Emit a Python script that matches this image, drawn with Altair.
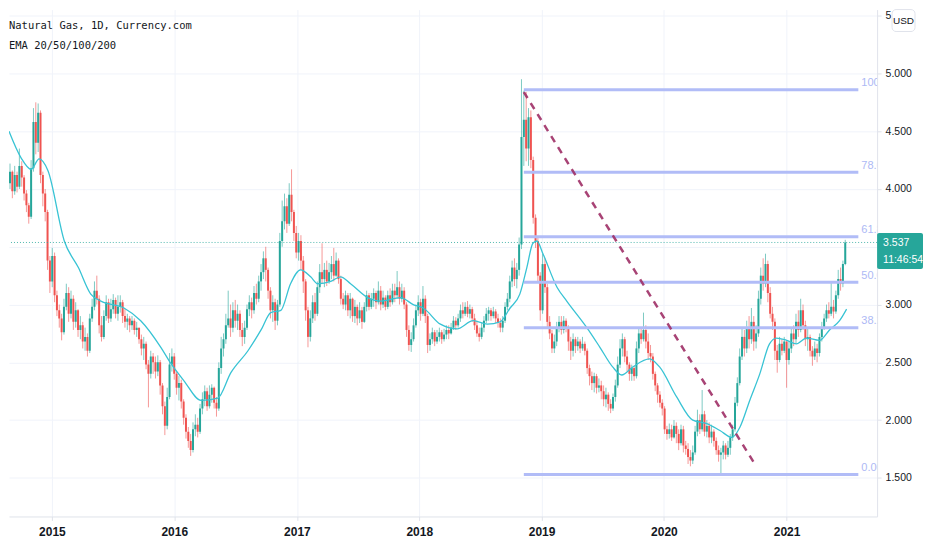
import altair as alt
import pandas as pd

# ---------------- data ----------------
START = "2014-08-22"          # first (weekly) candle
FIRST_OPEN = 4.12

CLOSE = [
    4.05, 4.15, 3.98, 4.12, 4.02, 4.20, 4.10, 3.96, 3.86, 3.76,
    4.18, 4.58, 4.40, 4.66, 4.12, 3.96, 3.80, 3.38, 3.20, 3.42,
    3.08, 2.95, 2.88, 2.76, 2.98, 3.10, 2.92, 3.05, 2.85, 2.95,
    2.78, 2.82, 2.68, 2.72, 2.60, 2.88, 2.98, 3.12, 3.05, 2.82,
    2.72, 2.90, 3.02, 2.88, 2.96, 3.04, 2.92, 2.98, 3.02, 2.90,
    2.85, 2.88, 2.82, 2.86, 2.78, 2.80, 2.70, 2.62, 2.66, 2.48,
    2.40, 2.55, 2.50, 2.42, 2.50, 2.30, 2.12, 1.95, 2.20, 2.48,
    2.55, 2.40, 2.28, 2.32, 2.16, 2.02, 1.90, 1.82, 1.74, 1.92,
    1.96, 1.90, 2.10, 2.18, 2.25, 2.12, 2.22, 2.28, 2.15, 2.10,
    2.45, 2.62, 2.70, 2.82, 2.88, 2.80, 2.95, 2.86, 2.92, 2.78,
    2.72, 2.80, 2.96, 3.02, 2.95, 3.10, 3.05, 3.20, 3.28, 3.40,
    3.30, 3.12, 2.95, 3.02, 2.86, 3.00, 3.55, 3.72, 3.85, 3.70,
    3.95, 3.80, 3.62, 3.45, 3.55, 3.38, 3.20, 2.95, 2.72, 2.88,
    3.02, 2.92, 3.15, 3.28, 3.22, 3.30, 3.20, 3.28, 3.35, 3.25,
    3.38, 3.22, 3.05, 3.00, 3.08, 2.95, 3.05, 2.90, 2.98, 2.88,
    2.95, 2.85, 2.98, 3.08, 2.98, 3.05, 3.10, 3.02, 3.12, 3.00,
    3.06, 2.98, 3.08, 3.02, 3.12, 3.08, 3.15, 3.05, 3.12, 3.00,
    2.78, 2.65, 2.70, 2.82, 2.95, 3.02, 2.92, 3.05, 2.90, 2.65,
    2.70, 2.76, 2.68, 2.72, 2.76, 2.70, 2.74, 2.78, 2.75, 2.80,
    2.86, 2.82, 2.88, 2.95, 2.92, 2.98, 2.92, 2.96, 2.88, 2.82,
    2.75, 2.72, 2.80, 2.86, 2.92, 2.95, 2.90, 2.94, 2.88, 2.84,
    2.80, 2.86, 2.98, 3.05, 3.20, 3.32, 3.22, 3.30, 3.52, 4.45,
    4.60, 4.35, 4.62, 4.25, 3.75, 3.55, 3.25, 2.95, 3.35, 3.15,
    2.85, 2.75, 2.62, 2.68, 2.80, 2.85, 2.78, 2.86, 2.80, 2.68,
    2.60, 2.70, 2.64, 2.68, 2.62, 2.66, 2.60, 2.45, 2.38, 2.32,
    2.38, 2.28, 2.30, 2.25, 2.18, 2.22, 2.14, 2.10, 2.20, 2.30,
    2.48, 2.62, 2.70, 2.55, 2.48, 2.40, 2.45, 2.38, 2.62, 2.75,
    2.70, 2.78, 2.68, 2.58, 2.55, 2.40, 2.30, 2.22, 2.15, 2.10,
    1.92, 1.88, 1.92, 1.85, 1.95, 1.88, 1.80, 1.92, 1.78, 1.75,
    1.68, 1.65, 1.72, 1.90, 2.00, 1.92, 2.05, 1.90, 1.95, 1.85,
    1.90, 1.82, 1.74, 1.70, 1.72, 1.78, 1.70, 1.76, 1.85, 1.92,
    2.15, 2.32, 2.55, 2.72, 2.62, 2.80, 2.70, 2.85, 2.68, 2.75,
    3.05, 3.25, 3.18, 3.35, 3.10, 2.92, 2.85, 2.60, 2.52, 2.66,
    2.60, 2.68, 2.52, 2.62, 2.75, 2.70, 2.85, 2.78, 2.95, 2.82,
    2.70, 2.72, 2.60, 2.55, 2.62, 2.58, 2.72, 2.80, 2.88, 2.95,
    2.92, 2.98, 2.94, 3.08, 3.22, 3.18, 3.35, 3.537,
]
HIGH = [
    4.18, 4.22, 4.16, 4.20, 4.15, 4.35, 4.24, 4.12, 3.99, 3.88,
    4.25, 4.70, 4.75, 4.74, 4.68, 4.15, 4.00, 3.82, 3.42, 3.49,
    3.45, 3.12, 3.00, 2.92, 3.05, 3.18, 3.15, 3.12, 3.08, 3.02,
    2.96, 2.90, 2.85, 2.80, 2.75, 2.92, 3.05, 3.20, 3.25, 3.08,
    2.90, 2.95, 3.08, 3.05, 3.05, 3.09, 3.06, 3.08, 3.08, 3.04,
    2.96, 2.92, 2.90, 2.90, 2.88, 2.85, 2.80, 2.74, 2.72, 2.68,
    2.52, 2.60, 2.58, 2.55, 2.56, 2.52, 2.32, 2.16, 2.28, 2.58,
    2.62, 2.58, 2.42, 2.38, 2.35, 2.18, 2.05, 1.94, 1.88, 1.98,
    2.05, 2.02, 2.14, 2.24, 2.30, 2.28, 2.30, 2.31, 2.29, 2.20,
    2.50, 2.72, 2.75, 2.92, 3.12, 3.00, 3.02, 3.04, 3.00, 2.95,
    2.84, 2.86, 3.00, 3.08, 3.06, 3.16, 3.18, 3.25, 3.35, 3.46,
    3.50, 3.32, 3.15, 3.08, 3.05, 3.04, 3.62, 3.90, 3.96, 3.92,
    4.05, 4.17, 3.82, 3.68, 3.62, 3.60, 3.42, 3.22, 2.98, 2.95,
    3.08, 3.10, 3.20, 3.35, 3.53, 3.36, 3.38, 3.36, 3.42, 3.49,
    3.45, 3.40, 3.25, 3.10, 3.12, 3.10, 3.10, 3.06, 3.04, 3.00,
    3.02, 2.98, 3.02, 3.12, 3.10, 3.10, 3.14, 3.12, 3.20, 3.16,
    3.12, 3.08, 3.12, 3.14, 3.18, 3.18, 3.29, 3.20, 3.18, 3.15,
    3.02, 2.82, 2.76, 2.88, 3.00, 3.08, 3.05, 3.16, 3.08, 2.92,
    2.75, 2.80, 2.78, 2.78, 2.80, 2.78, 2.79, 2.82, 2.82, 2.84,
    2.90, 2.89, 2.92, 3.00, 3.02, 3.02, 3.03, 3.00, 2.98, 2.92,
    2.86, 2.80, 2.84, 2.90, 2.97, 2.98, 2.97, 2.98, 2.96, 2.92,
    2.88, 2.90, 3.02, 3.10, 3.25, 3.38, 3.40, 3.36, 3.58, 4.95,
    4.85, 4.84, 4.70, 4.68, 4.28, 3.78, 3.58, 3.28, 3.44, 3.40,
    3.18, 2.90, 2.78, 2.74, 2.85, 2.90, 2.90, 2.90, 2.88, 2.82,
    2.72, 2.75, 2.72, 2.72, 2.70, 2.72, 2.68, 2.62, 2.48, 2.42,
    2.41, 2.40, 2.36, 2.34, 2.30, 2.28, 2.24, 2.18, 2.23, 2.35,
    2.55, 2.70, 2.75, 2.72, 2.60, 2.50, 2.48, 2.47, 2.68, 2.80,
    2.80, 2.93, 2.82, 2.75, 2.65, 2.58, 2.42, 2.32, 2.25, 2.18,
    2.12, 1.95, 1.97, 1.96, 2.00, 1.98, 1.92, 1.96, 1.95, 1.82,
    1.80, 1.74, 1.78, 1.95, 2.09, 2.05, 2.26, 2.08, 2.00, 1.98,
    1.96, 1.92, 1.85, 1.78, 1.76, 1.82, 1.80, 1.82, 1.88, 1.96,
    2.20, 2.37, 2.62, 2.80, 2.78, 2.86, 2.90, 2.97, 2.90, 2.82,
    3.12, 3.32, 3.40, 3.44, 3.38, 3.15, 2.98, 2.88, 2.65, 2.72,
    2.70, 2.72, 2.68, 2.68, 2.80, 2.82, 2.92, 2.95, 3.05, 3.00,
    2.86, 2.80, 2.74, 2.64, 2.68, 2.66, 2.75, 2.85, 2.92, 3.00,
    3.02, 3.19, 3.04, 3.12, 3.30, 3.32, 3.38, 3.56,
]
LOW = [
    3.95, 4.00, 3.92, 3.95, 3.97, 4.00, 4.02, 3.90, 3.80, 3.70,
    3.74, 4.15, 4.30, 4.32, 4.05, 3.85, 3.72, 3.30, 3.10, 3.15,
    3.02, 2.90, 2.80, 2.69, 2.74, 2.95, 2.85, 2.88, 2.78, 2.80,
    2.72, 2.70, 2.62, 2.60, 2.55, 2.58, 2.85, 2.95, 3.00, 2.75,
    2.68, 2.70, 2.86, 2.84, 2.85, 2.92, 2.88, 2.86, 2.93, 2.84,
    2.80, 2.78, 2.76, 2.78, 2.74, 2.72, 2.66, 2.56, 2.52, 2.44,
    2.11, 2.36, 2.40, 2.36, 2.38, 2.22, 2.05, 1.87, 1.92, 2.18,
    2.42, 2.35, 2.22, 2.17, 2.10, 1.96, 1.84, 1.76, 1.69, 1.72,
    1.86, 1.85, 1.88, 2.05, 2.12, 2.08, 2.10, 2.15, 2.10, 2.03,
    2.08, 2.40, 2.55, 2.66, 2.80, 2.72, 2.76, 2.80, 2.78, 2.72,
    2.64, 2.66, 2.78, 2.90, 2.88, 2.92, 3.00, 3.02, 3.12, 3.22,
    3.20, 3.05, 2.88, 2.85, 2.78, 2.82, 2.98, 3.50, 3.65, 3.62,
    3.68, 3.72, 3.55, 3.40, 3.38, 3.30, 3.10, 2.86, 2.63, 2.68,
    2.84, 2.86, 2.90, 3.10, 3.18, 3.15, 3.16, 3.18, 3.22, 3.20,
    3.24, 3.18, 3.00, 2.96, 2.95, 2.90, 2.88, 2.85, 2.84, 2.82,
    2.84, 2.79, 2.84, 2.94, 2.95, 2.96, 2.98, 2.96, 3.00, 2.95,
    2.97, 2.95, 2.96, 2.98, 3.00, 3.02, 3.05, 3.00, 3.02, 2.96,
    2.72, 2.60, 2.59, 2.68, 2.80, 2.90, 2.86, 2.90, 2.84, 2.58,
    2.60, 2.66, 2.64, 2.66, 2.68, 2.66, 2.68, 2.70, 2.70, 2.74,
    2.78, 2.78, 2.80, 2.85, 2.88, 2.90, 2.89, 2.88, 2.85, 2.78,
    2.72, 2.68, 2.70, 2.76, 2.84, 2.86, 2.86, 2.88, 2.84, 2.80,
    2.76, 2.76, 2.84, 2.95, 3.02, 3.15, 3.16, 3.14, 3.25, 3.48,
    4.20, 4.24, 4.20, 4.18, 3.70, 3.49, 3.20, 2.86, 2.92, 3.10,
    2.80, 2.70, 2.58, 2.58, 2.64, 2.76, 2.74, 2.75, 2.76, 2.60,
    2.52, 2.55, 2.58, 2.60, 2.58, 2.60, 2.56, 2.40, 2.30, 2.26,
    2.24, 2.23, 2.24, 2.18, 2.12, 2.11, 2.08, 2.06, 2.08, 2.16,
    2.28, 2.45, 2.55, 2.50, 2.42, 2.34, 2.34, 2.34, 2.36, 2.58,
    2.66, 2.68, 2.62, 2.52, 2.50, 2.35, 2.25, 2.15, 2.11, 2.04,
    1.88, 1.83, 1.84, 1.82, 1.84, 1.80, 1.74, 1.78, 1.72, 1.70,
    1.62, 1.60, 1.62, 1.70, 1.86, 1.88, 1.90, 1.86, 1.85, 1.80,
    1.80, 1.77, 1.70, 1.64, 1.54, 1.66, 1.66, 1.68, 1.70, 1.82,
    1.90, 2.12, 2.30, 2.52, 2.55, 2.58, 2.62, 2.66, 2.60, 2.62,
    2.72, 3.00, 3.12, 3.15, 3.02, 2.88, 2.78, 2.52, 2.41, 2.50,
    2.56, 2.58, 2.28, 2.48, 2.58, 2.64, 2.66, 2.72, 2.76, 2.78,
    2.64, 2.60, 2.55, 2.47, 2.52, 2.50, 2.55, 2.68, 2.78, 2.85,
    2.88, 2.90, 2.88, 2.92, 3.05, 3.12, 3.15, 3.34,
]

EMA_DATES = [
    "2014-08-26", "2014-10-01", "2014-10-31", "2014-11-24", "2014-12-20",
    "2015-02-07", "2015-03-21", "2015-04-27", "2015-05-27", "2015-08-04",
    "2015-09-23", "2015-11-22", "2015-12-22", "2016-01-30", "2016-03-21",
    "2016-05-10", "2016-06-18", "2016-08-08", "2016-09-16", "2016-10-15",
    "2016-11-14", "2016-12-13", "2017-01-12", "2017-02-11", "2017-03-04",
    "2017-04-12", "2017-05-11", "2017-06-10", "2017-07-31", "2017-09-08",
    "2017-11-06", "2017-12-14", "2018-01-13", "2018-03-05", "2018-04-24",
    "2018-06-11", "2018-07-23", "2018-08-30", "2018-09-29", "2018-10-28",
    "2018-11-18", "2018-12-06", "2018-12-18", "2019-01-05", "2019-02-16",
    "2019-03-17", "2019-05-16", "2019-06-24", "2019-08-01", "2019-08-28",
    "2019-09-30", "2019-11-19", "2019-12-19", "2020-02-08", "2020-03-27",
    "2020-05-08", "2020-06-16", "2020-07-22", "2020-08-15", "2020-09-13",
    "2020-10-13", "2020-11-11", "2020-12-02", "2021-01-01", "2021-01-30",
    "2021-03-01", "2021-04-09", "2021-05-09", "2021-06-08", "2021-06-29",
]
EMA_VALUES = [
    4.50, 4.27, 4.17, 4.26, 4.16,
    3.55, 3.32, 3.09, 3.03, 2.97,
    2.86, 2.63, 2.49, 2.34, 2.17,
    2.19, 2.41, 2.60, 2.78, 2.93,
    2.95, 3.18, 3.30, 3.24, 3.18,
    3.20, 3.24, 3.18, 3.06, 3.03,
    3.06, 3.00, 2.97, 2.83, 2.79,
    2.86, 2.83, 2.85, 2.97, 3.09,
    3.32, 3.53, 3.55, 3.44, 3.15,
    3.03, 2.80, 2.63, 2.46, 2.39,
    2.46, 2.53, 2.46, 2.20, 2.00,
    1.97, 1.91, 1.85, 1.94, 2.17,
    2.40, 2.66, 2.71, 2.69, 2.66,
    2.71, 2.69, 2.78, 2.86, 2.96,
]

FIB_LEVELS = [4.858, 4.145, 3.586, 3.193, 2.800, 1.528]
FIB_LABELS = ["100", "78.6", "61.8", "50.0", "38.2", "0.00"]
FIB_START, FIB_END, FIB_LABEL_AT = "2018-11-09", "2021-08-03", "2021-08-12"

TREND_DATES = ["2018-11-09", "2020-10-01"]
TREND_PRICES = [4.839, 1.606]

LAST_PRICE = 3.537
LAST_TIMER = "11:46:54"
TITLE_LINES = ["Natural Gas, 1D, Currency.com", "EMA 20/50/100/200"]
YEARS = [2015, 2016, 2017, 2018, 2019, 2020, 2021]
PRICE_TICKS = [1.5, 2.0, 2.5, 3.0, 3.5, 4.0, 4.5, 5.0, 5.5]

# ---------------- styling ----------------
GREEN, RED = "#26a69a", "#ef5350"
EMA_COLOR = "#38c3d4"
FIB_COLOR = "#b1bcf7"
FIB_TEXT = "#adb9f5"
TREND_COLOR = "#9e2f66"
GRID = "#f0f3fa"
LINE = "#e0e3eb"
INK = "#131722"
AX_FONT = "Liberation Sans, Arial, sans-serif"
MONO = "DejaVu Sans Mono, monospace"

W, H = 870, 508
XDOM = [alt.DateTime(year=2014, month=8, date=26), alt.DateTime(year=2021, month=9, date=28)]
YDOM = [1.1658, 5.5527]

# 3.5 sits under the last-price tag and 5.5 under the USD badge (only "5." shows)
Y_LABELS = ("datum.value == 3.5 ? '' : (datum.value == 5.5 ? '5.' : "
            "format(datum.value, '.3f'))")

X_AXIS = alt.Axis(values=[alt.DateTime(year=y, month=1, date=1) for y in YEARS],
                  format="%Y", labelFont=AX_FONT, labelFontSize=12,
                  labelFontWeight="bold", labelColor=INK, gridColor=GRID,
                  domainColor=LINE, tickColor=LINE, tickSize=4, labelPadding=6,
                  title=None)
Y_AXIS = alt.Axis(orient="right", values=PRICE_TICKS, labelExpr=Y_LABELS,
                  labelFont=AX_FONT, labelFontSize=10.5, labelColor=INK,
                  gridColor=GRID, domainColor=LINE, tickColor=LINE,
                  tickSize=4, labelPadding=4, title=None)
X_SCALE = alt.Scale(domain=XDOM)
Y_SCALE = alt.Scale(domain=YDOM, zero=False, nice=False)


def X(field):
    return alt.X(field, type="temporal", scale=X_SCALE, axis=X_AXIS)


def Y(field):
    return alt.Y(field, type="quantitative", scale=Y_SCALE, axis=Y_AXIS)


# ---------------- tables ----------------
dates = pd.date_range(START, periods=len(CLOSE), freq="7D").strftime("%Y-%m-%d")
opens = [FIRST_OPEN] + CLOSE[:-1]
candles = pd.DataFrame({
    "date": dates, "open": opens, "close": CLOSE, "high": HIGH, "low": LOW,
})
candles["dir"] = ["up" if c >= o else "down" for o, c in zip(opens, CLOSE)]
ema = pd.DataFrame({"date": EMA_DATES, "ema": EMA_VALUES})
fib = pd.DataFrame({"start": FIB_START, "end": FIB_END, "lab_at": FIB_LABEL_AT,
                    "level": FIB_LEVELS, "label": FIB_LABELS})
trend = pd.DataFrame({"d1": [TREND_DATES[0]], "d2": [TREND_DATES[1]],
                      "p1": [TREND_PRICES[0]], "p2": [TREND_PRICES[1]]})
one = pd.DataFrame({"a": [0]})

color = alt.Color("dir:N", scale=alt.Scale(domain=["up", "down"], range=[GREEN, RED]),
                  legend=None)

base = alt.Chart(candles)
wicks = base.mark_rule(strokeWidth=1.0, opacity=0.6, clip=True).encode(
    x=X("date"), y=Y("low"), y2="high", color=color)
bodies = base.mark_rule(strokeWidth=2.0, clip=True).encode(
    x=X("date"), y=Y("open"), y2="close", color=color)

ema_line = alt.Chart(ema).mark_line(color=EMA_COLOR, strokeWidth=1.3,
                                    interpolate="monotone", clip=True).encode(
    x=X("date"), y=Y("ema"))

price_line = alt.Chart(one).mark_rule(color=GREEN, strokeDash=[1, 2], strokeWidth=1,
                                      opacity=0.8).encode(
    y=alt.Y(datum=LAST_PRICE, type="quantitative", scale=Y_SCALE, axis=Y_AXIS))

fib_lines = alt.Chart(fib).mark_rule(color=FIB_COLOR, strokeWidth=3).encode(
    x=X("start"), x2="end", y=Y("level"))
fib_text = alt.Chart(fib).mark_text(align="left", baseline="alphabetic", dy=-3.5,
                                    font=AX_FONT, fontSize=11, color=FIB_TEXT,
                                    clip=True).encode(
    x=X("lab_at"), y=Y("level"), text="label:N")

trend_line = alt.Chart(trend).mark_rule(color=TREND_COLOR, strokeWidth=2.5,
                                        strokeDash=[7, 6], opacity=0.9).encode(
    x=X("d1"), y=Y("p1"), x2="d2", y2="p2")


def label(text, x, y, **kw):
    return alt.Chart(pd.DataFrame({"t": [text]})).mark_text(**kw).encode(
        x=alt.value(x), y=alt.value(y), text="t:N")


title1 = label(TITLE_LINES[0], 0, 19, align="left", baseline="alphabetic",
               font=MONO, fontSize=10.5, color=INK)
title2 = label(TITLE_LINES[1], 0, 40, align="left", baseline="alphabetic",
               font=MONO, fontSize=10.5, color=INK)

tag = alt.Chart(one).mark_rect(color=GREEN, cornerRadius=2).encode(
    x=alt.value(870), x2=alt.value(916), y=alt.value(224), y2=alt.value(260))
tag_price = label(f"{LAST_PRICE:.3f}", 876, 234, align="left", baseline="middle",
                  font=AX_FONT, fontSize=10.5, color="white")
tag_timer = label(LAST_TIMER, 876, 251, align="left", baseline="middle",
                  font=AX_FONT, fontSize=10.5, color="white")

usd_box = alt.Chart(one).mark_rect(fill="white", stroke=LINE, strokeWidth=1,
                                   cornerRadius=4).encode(
    x=alt.value(885), x2=alt.value(908), y=alt.value(0), y2=alt.value(22))
usd_text = label("USD", 896.5, 11.5, align="center", baseline="middle",
                 font=AX_FONT, fontSize=10, color=INK)

chart = alt.layer(
    wicks, bodies, ema_line, price_line, fib_lines, fib_text, trend_line,
    title1, title2, tag, tag_price, tag_timer, usd_box, usd_text,
).properties(
    width=W, height=H, padding=0, background="white",
).configure_view(strokeWidth=0)

chart.save("out.html", embed_options={"renderer": "svg", "actions": False})
